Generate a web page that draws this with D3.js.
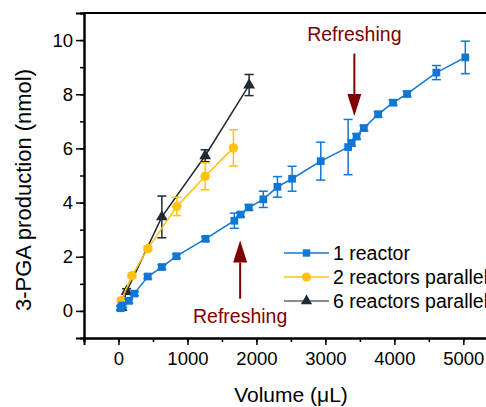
<!DOCTYPE html>
<html>
<head>
<meta charset="utf-8">
<script src="https://cdn.jsdelivr.net/npm/d3@7"></script>
<style>
  body { margin: 0; background: #fff; }
  svg { font-family: "Liberation Sans", Arial, sans-serif; }
</style>
</head>
<body>
<svg id="drawing_region"></svg>
<script>
// 1 reactor
const vol1 = [30, 60, 150, 230, 425, 629, 840, 1262, 1680, 1770, 1890, 2100, 2305, 2517, 2933, 3330, 3380, 3452, 3558, 3764, 3981, 4184, 4609, 5029];
const val1 = [0.1, 0.2, 0.37, 0.64, 1.27, 1.62, 2.02, 2.66, 3.33, 3.56, 3.82, 4.12, 4.58, 4.88, 5.53, 6.05, 6.2, 6.44, 6.75, 7.26, 7.69, 8.01, 8.8, 9.36];
const err1 = [0.08, 0.08, 0.08, 0.08, 0.08, 0.08, 0.08, 0.08, 0.28, 0.08, 0.1, 0.3, 0.38, 0.46, 0.7, 1.02, 0.1, 0.1, 0.1, 0.1, 0.1, 0.1, 0.26, 0.6];
// 2 reactors parallel
const vol2 = [40, 195, 426, 846, 1257, 1667];
const val2 = [0.38, 1.3, 2.3, 3.86, 4.97, 6.02];
const err2 = [0.1, 0.08, 0.08, 0.34, 0.5, 0.67];
// 6 reactors parallel
const vol6 = [45, 118, 629, 1257, 1894];
const val6 = [0.12, 0.72, 3.47, 5.73, 8.34];
const err6 = [0.1, 0.1, 0.77, 0.22, 0.39];

const seriesNames = ['1 reactor', '2 reactors parallel', '6 reactors parallel'];
const xTicks = [0, 1000, 2000, 3000, 4000, 5000];
const yTicks = [0, 2, 4, 6, 8, 10];
// annotations: [x, text y, arrow start y, arrow tip y]
const refreshTop = [3420, 9.95, 9.5, 7.2];
const refreshBottom = [1764, -0.45, 0.45, 2.6];

const width = 486, height = 407;
const margin = {top: 13, left: 84, bottom: 69};

const svg = d3.select('#drawing_region')
    .attr('width', width)
    .attr('height', height);

const xscale = d3.scaleLinear().domain([-500, 5500]).range([margin.left, 497.8]);
const yscale = d3.scaleLinear().domain([-1, 11]).range([height - margin.bottom, margin.top]);

const blue = '#0f78d7', yellow = '#ffc20e', dark = '#1f2a33', red = '#7f0000';

// axes
const xminor = d3.axisBottom(xscale).tickValues(d3.range(-500, 5501, 500)).tickSize(4).tickFormat('');
const yminor = d3.axisLeft(yscale).tickValues(d3.range(-1, 11.1, 1)).tickSize(4).tickFormat('');
const xaxis = d3.axisBottom(xscale).tickValues(xTicks).tickSize(7).tickPadding(7).tickFormat(d3.format('d'));
const yaxis = d3.axisLeft(yscale).tickValues(yTicks).tickSize(8).tickPadding(3);

const xb = height - margin.bottom;
[xminor, xaxis].forEach(a => {
    svg.append('g').attr('transform', `translate(0,${xb})`).call(a)
        .call(g => g.select('.domain').attr('stroke-width', 2))
        .call(g => g.selectAll('line').attr('stroke-width', 1.5))
        .call(g => g.selectAll('text').attr('font-size', 18.5).attr('fill', '#000'));
});
[yminor, yaxis].forEach(a => {
    svg.append('g').attr('transform', `translate(${margin.left},0)`).call(a)
        .call(g => g.select('.domain').attr('stroke-width', 2))
        .call(g => g.selectAll('line').attr('stroke-width', 1.5))
        .call(g => g.selectAll('text').attr('font-size', 18.5).attr('fill', '#000'));
});
// top frame
svg.append('line')
    .attr('x1', margin.left).attr('x2', width)
    .attr('y1', margin.top).attr('y2', margin.top)
    .attr('stroke', '#000').attr('stroke-width', 2);

svg.append('text')
    .attr('x', 291).attr('y', 402)
    .attr('text-anchor', 'middle')
    .attr('font-size', 21)
    .text('Volume (μL)');

svg.append('text')
    .attr('transform', 'rotate(-90)')
    .attr('x', -190).attr('y', 31)
    .attr('text-anchor', 'middle')
    .attr('font-size', 22)
    .text('3-PGA production (nmol)');

// series
const series = [
    {x: vol6, y: val6, e: err6, color: dark, shape: d3.symbolTriangle, size: 60},
    {x: vol2, y: val2, e: err2, color: yellow, shape: d3.symbolCircle, size: 70},
    {x: vol1, y: val1, e: err1, color: blue, shape: d3.symbolSquare, size: 60}
];

const line = d3.line().x(d => xscale(d[0])).y(d => yscale(d[1]));

series.forEach(s => {
    const pts = s.x.map((v, i) => [v, s.y[i], s.e[i]]);
    const g = svg.append('g');
    g.append('path')
        .attr('d', line(pts))
        .attr('fill', 'none')
        .attr('stroke', s.color)
        .attr('stroke-width', 1.5);
    const eb = g.selectAll('.eb').data(pts).enter().append('g');
    eb.append('line')
        .attr('x1', d => xscale(d[0])).attr('x2', d => xscale(d[0]))
        .attr('y1', d => yscale(d[1] - d[2])).attr('y2', d => yscale(d[1] + d[2]))
        .attr('stroke', s.color).attr('stroke-width', 1.5);
    [-1, 1].forEach(sgn => {
        eb.append('line')
            .attr('x1', d => xscale(d[0]) - 4.5).attr('x2', d => xscale(d[0]) + 4.5)
            .attr('y1', d => yscale(d[1] + sgn * d[2])).attr('y2', d => yscale(d[1] + sgn * d[2]))
            .attr('stroke', s.color).attr('stroke-width', 1.5);
    });
    g.selectAll('.pt').data(pts).enter().append('path')
        .attr('d', d3.symbol().type(s.shape).size(s.size))
        .attr('transform', d => `translate(${xscale(d[0])},${yscale(d[1])})`)
        .attr('fill', s.color);
});

// refreshing annotations
function arrow(a, up) {
    const x = xscale(a[0]);
    const y0 = yscale(a[2]), y1 = yscale(a[3]);
    const dir = up ? 1 : -1;
    const headLen = 22;
    svg.append('line')
        .attr('x1', x).attr('x2', x)
        .attr('y1', y0).attr('y2', y1 + dir * headLen)
        .attr('stroke', red).attr('stroke-width', 2);
    svg.append('path')
        .attr('d', `M${x},${y1} L${x - 7},${y1 + dir * headLen} L${x + 7},${y1 + dir * headLen} Z`)
        .attr('fill', red);
    svg.append('text')
        .attr('x', x).attr('y', yscale(a[1]))
        .attr('text-anchor', 'middle')
        .attr('font-size', 19.5)
        .attr('fill', red)
        .text('Refreshing');
}
arrow(refreshTop, false);
arrow(refreshBottom, true);

// legend
const legendShapes = [
    {color: blue, line: blue, shape: d3.symbolSquare, size: 55},
    {color: yellow, line: yellow, shape: d3.symbolCircle, size: 65},
    {color: dark, line: '#666', shape: d3.symbolTriangle, size: 55}
];
const legend = svg.append('g').attr('transform', 'translate(284,253)');
legendShapes.forEach((l, i) => {
    const row = legend.append('g').attr('transform', `translate(0,${i * 24})`);
    row.append('line').attr('x1', 0).attr('x2', 45)
        .attr('stroke', l.line).attr('stroke-width', 1.5);
    row.append('path')
        .attr('d', d3.symbol().type(l.shape).size(l.size))
        .attr('transform', 'translate(22.5,0)')
        .attr('fill', l.color);
    row.append('text')
        .attr('x', 49).attr('y', 7)
        .attr('font-size', 19.5)
        .text(seriesNames[i]);
});
</script>
</body>
</html>
